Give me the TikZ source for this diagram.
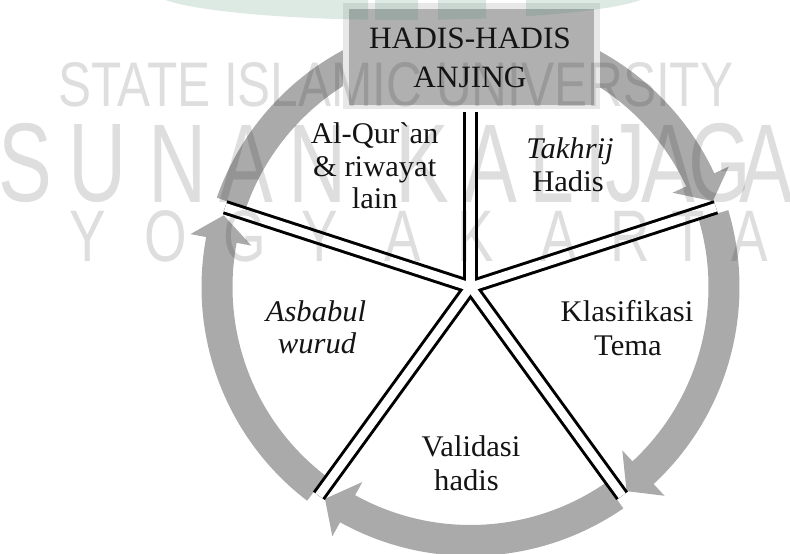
\documentclass[tikz,border=0pt]{standalone}
\usepackage{fontspec}
\setmainfont{Liberation Serif}
\newfontfamily\rawserif{Liberation Serif}
\newfontfamily\wmfont{Liberation Sans}
\usepackage{graphicx}
\definecolor{ringgray}{RGB}{170,170,170}
\definecolor{boxgray}{RGB}{176,176,176}
\definecolor{boxrim}{RGB}{232,232,232}
\definecolor{logogreen}{RGB}{70,135,105}
\definecolor{inkdark}{RGB}{20,20,20}
% start angle, base angle, tip angle
\newcommand\ringarrow[3]{%
  \fill[ringgray] (#1:269) arc[start angle=#1, end angle=#2, radius=269]
    -- (#2:285) -- (#3:257) -- (#2:223) -- (#2:238)
    arc[start angle=#2, end angle=#1, radius=238] -- cycle;}
\begin{document}
\begin{tikzpicture}[x=1pt,y=-1pt,
  lbl/.style={font=\fontsize{30}{34}\selectfont, inner sep=0pt, anchor=base, xscale=1.02, text=inkdark},
  ttl/.style={font=\fontsize{31}{37}\selectfont, inner sep=0pt, anchor=base, xscale=1.01, text=inkdark},
  wm/.style={inner sep=0pt, anchor=south, font=\wmfont, text=black, text opacity=0.13},
  spokeout/.style={line width=14.5pt, black},
  spokein/.style={line width=8.5pt, white}]
\useasboundingbox (0,0) rectangle (790,554);
\fill[white] (0,0) rectangle (790,554);

% cycle arrows and spokes
\begin{scope}[shift={(470.5,287)}, y=1pt]
  \coordinate (O) at (0,0);
  \ringarrow{160.6}{25}{19.5}
  \ringarrow{16.6}{-47.1}{-52.6}
  \ringarrow{-55.4}{-119}{-124.5}
  \ringarrow{232.6}{169.3}{163.8}
  \foreach \a/\l [count=\i] in {90/175,18/258,-54/258,-126/258,162/258}
    \coordinate (e\i) at (\a:\l);
  \foreach \i in {1,...,5} \draw[spokeout] (O) -- (e\i);
  \foreach \i in {1,...,5} \draw[spokein] (O) -- (e\i);
\end{scope}

% title box
\fill[boxrim] (343,3) rectangle (600,109);
\node[fill=boxgray, minimum width=245pt, minimum height=96pt, inner sep=0pt] (box) at (471.5,57) {};
\node[ttl] (h1) at (470,48.3) {HADIS-HADIS};
\node[ttl] (h2) at (470,87.7) {ANJING};

% segment labels
\node[lbl] (q1) at (374.7,143.3) {Al-Qur{\rawserif`}an};
\node[lbl] (q2) at (374.7,176.7) {\& riwayat};
\node[lbl] (q3) at (374.7,208) {lain};
\node[lbl] (t1) at (570,158) {\itshape Takhrij};
\node[lbl] (t2) at (568,191.7) {Hadis};
\node[lbl] (a1) at (316,321.7) {\itshape Asbabul};
\node[lbl] (a2) at (317,353) {\itshape wurud};
\node[lbl] (k1) at (627,321.7) {Klasifikasi};
\node[lbl] (k2) at (628,355) {Tema};
\node[lbl] (v1) at (471,456.7) {Validasi};
\node[lbl] (v2) at (466.5,490) {hadis};

% watermark
\node[wm, anchor=south west] (wa) at (58,107) {\resizebox{675pt}{44pt}{STATE ISLAMIC UNIVERSITY}};
\foreach \c/\x [count=\i] in {S/25,U/98,N/178,A/246,N/318,K/422,A/490,L/552,I/596,J/626,A/668,G/720,A/766}
  \node[wm] (wb\i) at (\x,203) {\scalebox{0.72}[1]{\fontsize{112}{112}\selectfont \c}};
\foreach \c/\x [count=\i] in {Y/88,O/166,G/245,Y/320,A/403,K/476,A/559,R/630,T/688,A/750}
  \node[wm] (wc\i) at (\x,262) {\scalebox{0.75}[1]{\fontsize{73}{73}\selectfont \c}};
\begin{scope}
  \clip (403,-9) ellipse [x radius=250, y radius=29];
  \fill[logogreen, fill opacity=0.18, even odd rule] (100,-40) rectangle (700,40)
    (368,-40) rectangle (375,40) (418,-40) rectangle (438,40) (486,-40) rectangle (526,40);
\end{scope}
\end{tikzpicture}
\end{document}
